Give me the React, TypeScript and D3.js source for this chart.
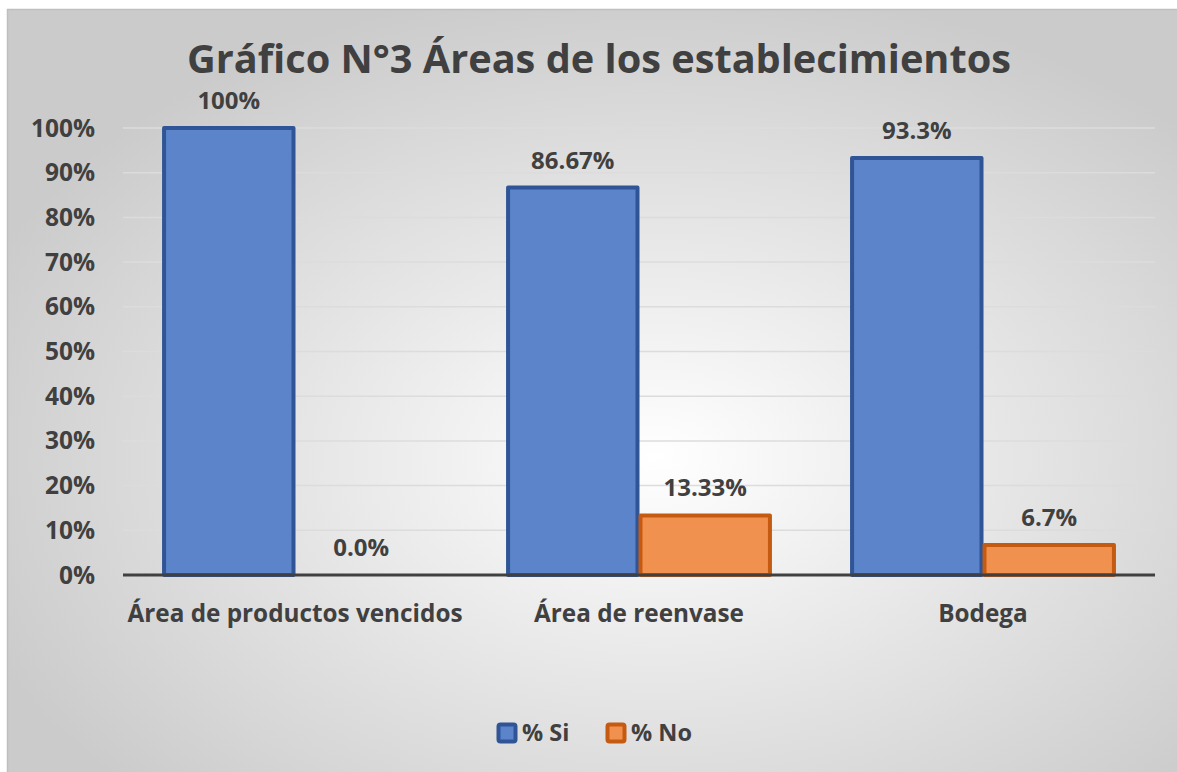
import React, { useEffect, useRef } from "react";
import * as d3 from "d3";

const categories = ["Área de productos vencidos", "Área de reenvase", "Bodega"];
const seriesNames = ["% Si", "% No"];
const siValues = [100, 86.67, 93.3];
const noValues = [0, 13.33, 6.7];
const siLabels = ["100%", "86.67%", "93.3%"];
const noLabels = ["0.0%", "13.33%", "6.7%"];
const yTicks = [0, 10, 20, 30, 40, 50, 60, 70, 80, 90, 100];

const FONT = "'Open Sans', Lato, sans-serif";
const TEXT = "#404040";

const App = () => {
  const ref = useRef<SVGSVGElement>(null);

  useEffect(() => {
    const width = 1177;
    const height = 772;
    const svg = d3.select(ref.current);
    svg.selectAll("*").remove();

    const defs = svg.append("defs");
    const grad = defs
      .append("radialGradient")
      .attr("id", "bg")
      .attr("cx", "55%")
      .attr("cy", "58%")
      .attr("r", "62%");
    grad.append("stop").attr("offset", "0%").attr("stop-color", "#ffffff");
    grad.append("stop").attr("offset", "100%").attr("stop-color", "#cbcbcb");

    // chart area frame
    svg.append("rect")
      .attr("x", 7.5).attr("y", 9.5)
      .attr("width", width).attr("height", height)
      .attr("fill", "url(#bg)")
      .attr("stroke", "#bfbfbf")
      .attr("stroke-width", 1.5);

    const left = 123, right = 1155, top = 128, bottom = 575;

    const y = d3.scaleLinear().domain([0, 100]).range([bottom, top]);
    const x0 = d3.scaleBand().domain(categories).range([left, right]).paddingInner(0.23).paddingOuter(0.115);
    const x1 = d3.scaleBand().domain(seriesNames).range([0, x0.bandwidth()]);

    // title
    svg.append("text")
      .attr("x", 599).attr("y", 73)
      .attr("text-anchor", "middle")
      .attr("font-family", FONT).attr("font-weight", 700)
      .attr("font-size", 39.7).attr("fill", TEXT)
      .text("Gráfico N°3 Áreas de los establecimientos");

    // gridlines
    svg.append("g")
      .selectAll("line")
      .data(yTicks.filter(t => t > 0))
      .join("line")
      .attr("x1", left).attr("x2", right)
      .attr("y1", d => y(d)).attr("y2", d => y(d))
      .attr("stroke", "#dcdcdc").attr("stroke-width", 1.5);

    // y tick labels
    svg.append("g")
      .selectAll("text")
      .data(yTicks)
      .join("text")
      .attr("x", 95).attr("y", d => y(d))
      .attr("dy", "0.35em")
      .attr("text-anchor", "end")
      .attr("font-family", FONT).attr("font-weight", 700)
      .attr("font-size", 24.5).attr("fill", TEXT)
      .text(d => d + "%");

    const series = [
      { name: seriesNames[0], values: siValues, labels: siLabels, fill: "#5b84ca", stroke: "#2f5597" },
      { name: seriesNames[1], values: noValues, labels: noLabels, fill: "#f0914f", stroke: "#c55a11" },
    ];

    series.forEach(s => {
      const g = svg.append("g");
      g.selectAll("rect")
        .data(categories)
        .join("rect")
        .filter((_, i) => s.values[i] > 0)
        .attr("x", c => x0(c)! + x1(s.name)! + 1.5)
        .attr("y", c => y(s.values[categories.indexOf(c)]))
        .attr("width", x1.bandwidth() - 3)
        .attr("height", c => bottom - y(s.values[categories.indexOf(c)]))
        .attr("fill", s.fill)
        .attr("stroke", s.stroke)
        .attr("stroke-width", 4)
        .attr("stroke-linejoin", "round");

      g.selectAll("text")
        .data(categories)
        .join("text")
        .attr("x", c => x0(c)! + x1(s.name)! + x1.bandwidth() / 2)
        .attr("y", (c, i) => y(s.values[i]) - 19)
        .attr("text-anchor", "middle")
        .attr("font-family", FONT).attr("font-weight", 700)
        .attr("font-size", 24).attr("fill", TEXT)
        .text((c, i) => s.labels[i]);
    });

    // baseline
    svg.append("line")
      .attr("x1", left).attr("x2", right)
      .attr("y1", bottom).attr("y2", bottom)
      .attr("stroke", "#404040").attr("stroke-width", 3);

    // category labels
    svg.append("g")
      .selectAll("text")
      .data(categories)
      .join("text")
      .attr("x", c => x0(c)! + x0.bandwidth() / 2)
      .attr("y", 622)
      .attr("text-anchor", "middle")
      .attr("font-family", FONT).attr("font-weight", 700)
      .attr("font-size", 24.3).attr("fill", TEXT)
      .text(c => c);

    // legend
    const legendX = [497, 606];
    series.forEach((s, i) => {
      const lg = svg.append("g").attr("transform", `translate(${legendX[i]},723)`);
      lg.append("rect")
        .attr("x", 1.5).attr("y", 1.5).attr("width", 17).attr("height", 17)
        .attr("rx", 2)
        .attr("fill", s.fill).attr("stroke", s.stroke).attr("stroke-width", 4);
      lg.append("text")
        .attr("x", 25).attr("y", 10).attr("dy", "0.35em")
        .attr("font-family", FONT).attr("font-weight", 700)
        .attr("font-size", 23.5).attr("fill", TEXT)
        .text(s.name);
    });
  }, []);

  return (
    <svg
      ref={ref}
      width={1177}
      height={772}
      style={{ position: "absolute", left: 0, top: 0, display: "block" }}
    />
  );
};

export default App;
